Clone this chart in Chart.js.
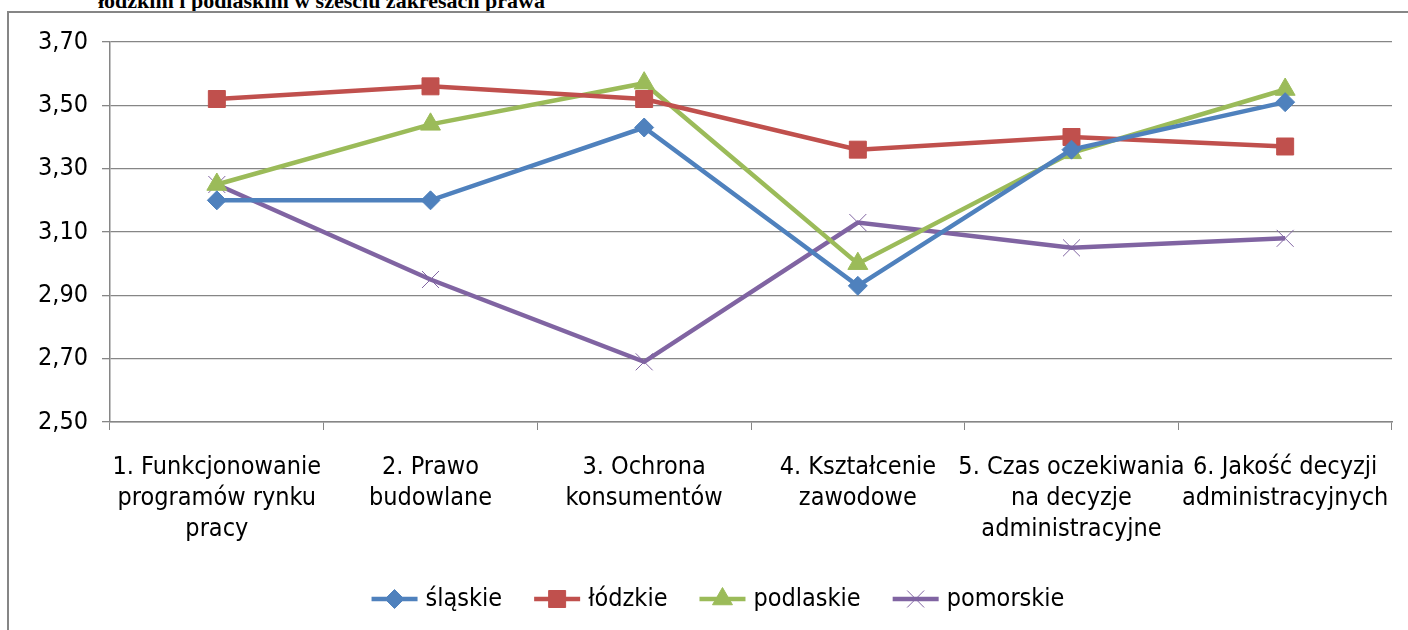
<!DOCTYPE html>
<html lang="pl">
<head>
<meta charset="utf-8">
<title>Ocena zakresów prawa</title>
<script src="https://cdn.jsdelivr.net/npm/chart.js@4.4.0/dist/chart.umd.min.js"></script>
<style>
    body { margin: 0; background: #fff; overflow: hidden; }
    #title {
        position: absolute; left: 98px; top: -10px;
        font: bold 22px "Liberation Serif", "Times New Roman", serif;
        line-height: 22px; white-space: nowrap; color: #000;
    }
    #frame {
        position: absolute; left: 7px; top: 11px; width: 1440px; height: 660px;
        border: 2px solid #868686; box-sizing: border-box;
    }
    #wrap { position: absolute; left: 0; top: 0; width: 1408px; height: 630px; }
</style>
</head>
<body>
<div id="title">łódzkim i podlaskim w sześciu zakresach prawa</div>
<div id="frame"></div>
<div id="wrap"><canvas id="lawChart"></canvas></div>
<script>
// Categories (multi-line axis labels)
const categories = [
    ['1. Funkcjonowanie', 'programów rynku', 'pracy'],
    ['2. Prawo', 'budowlane'],
    ['3. Ochrona', 'konsumentów'],
    ['4. Kształcenie', 'zawodowe'],
    ['5. Czas oczekiwania', 'na decyzje', 'administracyjne'],
    ['6. Jakość decyzji', 'administracyjnych']
];

// Series values
const slaskie = [3.20, 3.20, 3.43, 2.93, 3.36, 3.51];
const lodzkie = [3.52, 3.56, 3.52, 3.36, 3.40, 3.37];
const podlaskie = [3.25, 3.44, 3.57, 3.00, 3.35, 3.55];
const pomorskie = [3.25, 2.95, 2.69, 3.13, 3.05, 3.08];

// Y axis tick labels (2,50 ... 3,70)
const yTickLabels = ['2,50', '2,70', '2,90', '3,10', '3,30', '3,50', '3,70'];

const FONT = '"Liberation Sans Narrow", "DejaVu Sans Condensed", Roboto, sans-serif';
const GRID = '#868686';

function series(label, data, color, pointStyle, radius, pointBorder) {
    return {
        label: label,
        data: data,
        borderColor: color,
        backgroundColor: color,
        borderWidth: 4.5,
        tension: 0,
        pointStyle: pointStyle,
        pointRadius: radius,
        pointHoverRadius: radius,
        pointBorderWidth: pointBorder,
        pointBackgroundColor: color,
        pointBorderColor: color
    };
}

// Excel-like legend: short line with the marker on top, then the name
const lineLegend = {
    id: 'lineLegend',
    afterDraw(chart) {
        const ctx = chart.ctx;
        const sets = chart.data.datasets;
        const lineW = 46, gapText = 8, gapItem = 32;
        ctx.save();
        ctx.font = '25px ' + FONT;
        const widths = sets.map(d => lineW + gapText + ctx.measureText(d.label).width);
        const total = widths.reduce((a, b) => a + b, 0) + gapItem * (sets.length - 1);
        let x = 718 - total / 2;
        const y = chart.chartArea.bottom + 177;
        sets.forEach((d, i) => {
            ctx.strokeStyle = d.borderColor;
            ctx.lineWidth = 4.5;
            ctx.beginPath();
            ctx.moveTo(x, y);
            ctx.lineTo(x + lineW, y);
            ctx.stroke();
            ctx.fillStyle = d.backgroundColor;
            ctx.lineWidth = d.pointBorderWidth;
            Chart.helpers.drawPoint(ctx, {
                pointStyle: d.pointStyle,
                radius: d.pointRadius,
                rotation: 0,
                borderWidth: d.pointBorderWidth
            }, x + lineW / 2, y);
            ctx.fillStyle = '#000';
            ctx.textAlign = 'left';
            ctx.textBaseline = 'middle';
            ctx.fillText(d.label, x + lineW + gapText, y);
            x += widths[i] + gapItem;
        });
        ctx.restore();
    }
};

const ctx = document.getElementById('lawChart').getContext('2d');
const lawChart = new Chart(ctx, {
    type: 'line',
    data: {
        labels: categories,
        datasets: [
            series('śląskie', slaskie, '#4F81BD', 'rectRot', 9.5, 1),
            series('łódzkie', lodzkie, '#C0504D', 'rect', 12, 1),
            series('podlaskie', podlaskie, '#9BBB59', 'triangle', 11.5, 1),
            series('pomorskie', pomorskie, '#8064A2', 'crossRot', 12, 1)
        ]
    },
    options: {
        responsive: true,
        maintainAspectRatio: false,
        animation: false,
        layout: { padding: { left: 0, top: 42, right: 16, bottom: 68 } },
        scales: {
            x: {
                offset: true,
                grid: {
                    offset: true,
                    drawOnChartArea: false,
                    drawTicks: true,
                    tickLength: 8,
                    color: GRID
                },
                border: { color: GRID, width: 1.5 },
                ticks: {
                    autoSkip: false,
                    maxRotation: 0,
                    padding: 22,
                    color: '#000',
                    font: { family: FONT, size: 25, lineHeight: 1.24 }
                },
                afterFit(scale) {
                    scale.height = 140;
                    // labels fit inside the plot width, no extra side padding
                    scale.paddingLeft = 0;
                    scale.paddingRight = 0;
                }
            },
            y: {
                min: 2.5,
                max: 3.7,
                ticks: {
                    stepSize: 0.2,
                    padding: 14,
                    color: '#000',
                    font: { family: FONT, size: 25 },
                    callback: (value, index) => yTickLabels[index]
                },
                grid: { color: GRID, lineWidth: 1.3, tickLength: 8 },
                border: { color: GRID, width: 1.5 },
                afterFit(scale) { scale.width = 110; }
            }
        },
        plugins: {
            legend: { display: false },
            tooltip: { enabled: false }
        }
    },
    plugins: [lineLegend]
});
</script>
</body>
</html>
